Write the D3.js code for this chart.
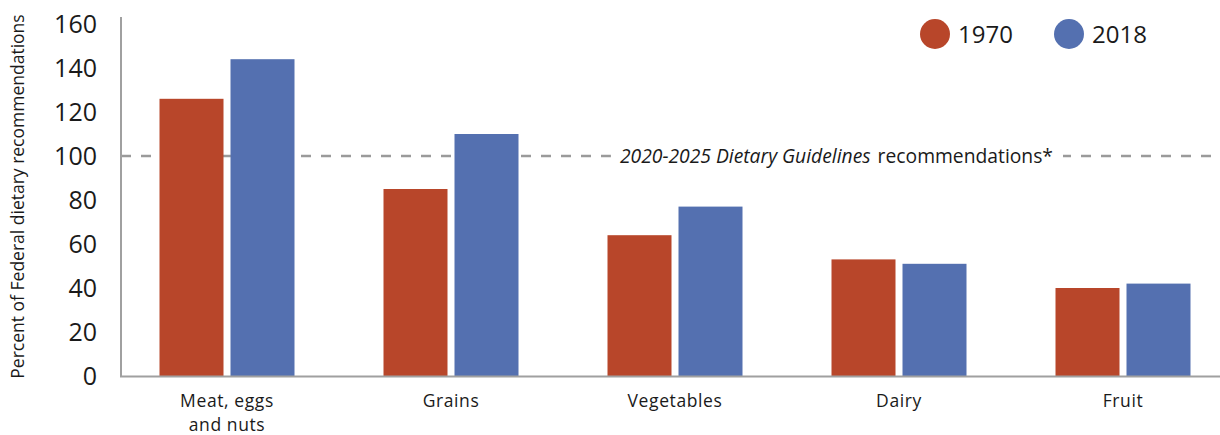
<!DOCTYPE html>
<html><head><meta charset="utf-8">
<script src="https://cdn.jsdelivr.net/npm/d3@7"></script>
<style>body{margin:0;background:#fff;} svg{display:block;font-family:"Open Sans", Lato, sans-serif;}</style>
</head><body>
<svg id="chart" width="1220" height="435"></svg>
<script>
const categories = ["Meat, eggs|and nuts", "Grains", "Vegetables", "Dairy", "Fruit"];
const series = ["1970", "2018"];
const values1970 = [126, 85, 64, 53, 40];
const values2018 = [144, 110, 77, 51, 42];
const yTicks = [0, 20, 40, 60, 80, 100, 120, 140, 160];
const colors = ["#B8462A", "#5470B0"];
const guideline = 100;
const yTitle = "Percent of Federal dietary recommendations";

const svg = d3.select("#chart");
const y = d3.scaleLinear().domain([0, 160]).range([376, 24]);
const x0 = d3.scaleBand().domain(categories).range([115, 1235]).padding(0);
const groupW = 135;
const x1 = d3.scaleBand().domain(series).range([0, groupW]).paddingInner(7/71).paddingOuter(0);
const vals = {"1970": values1970, "2018": values2018};

// guideline dashed line
svg.append("line").attr("x1", 121).attr("x2", 1212).attr("y1", y(guideline)).attr("y2", y(guideline))
  .attr("stroke", "#9a9a9a").attr("stroke-width", 2.5).attr("stroke-dasharray", "10,10");

// bars
categories.forEach((c, i) => {
  series.forEach((s, j) => {
    const v = vals[s][i];
    svg.append("rect")
      .attr("x", x0(c) + (x0.bandwidth() - groupW) / 2 + x1(s))
      .attr("y", y(v)).attr("width", x1.bandwidth()).attr("height", y(0) - y(v))
      .attr("fill", colors[j]);
  });
});

// guideline label
const gl = svg.append("g");
const gt = gl.append("text").attr("x", 1053).attr("y", y(guideline) + 7).attr("text-anchor", "end")
  .attr("font-size", 19.3).attr("fill", "#1a1a1a");
gt.append("tspan").attr("font-style", "italic").text("2020-2025 Dietary Guidelines");
gt.append("tspan").attr("dx", 7).text("recommendations*");
const bb = gt.node().getBBox();
gl.insert("rect", "text").attr("x", bb.x - 9).attr("y", bb.y).attr("width", bb.width + 19).attr("height", bb.height).attr("fill", "#fff");

// axes lines
svg.append("line").attr("x1", 121).attr("x2", 121).attr("y1", 17).attr("y2", 377).attr("stroke", "#a0a0a0").attr("stroke-width", 2);
svg.append("line").attr("x1", 120).attr("x2", 1220).attr("y1", 376.5).attr("y2", 376.5).attr("stroke", "#a0a0a0").attr("stroke-width", 2);

// y tick labels
svg.append("g").selectAll("text").data(yTicks).join("text")
  .attr("x", 97).attr("y", d => y(d)).attr("dy", "0.36em").attr("text-anchor", "end")
  .attr("font-size", 25).attr("fill", "#1a1a1a").text(d => d);

// y title
svg.append("text").attr("transform", `translate(24,${(13 + 380) / 2}) rotate(-90)`)
  .attr("text-anchor", "middle").attr("font-size", 17.5).attr("fill", "#1a1a1a").text(yTitle);

// x labels (each line its own text element)
categories.forEach(c => {
  c.split("|").forEach((p, k) => {
    svg.append("text").attr("x", x0(c) + x0.bandwidth() / 2).attr("y", 407 + k * 24)
      .attr("text-anchor", "middle").attr("font-size", 17.5).attr("letter-spacing", 0.6)
      .attr("fill", "#1a1a1a").text(p);
  });
});

// legend
const legX = [935, 1069];
series.forEach((s, j) => {
  svg.append("circle").attr("cx", legX[j]).attr("cy", 34).attr("r", 15).attr("fill", colors[j]);
  svg.append("text").attr("x", legX[j] + 23).attr("y", 34).attr("dy", "0.36em")
    .attr("font-size", 24).attr("fill", "#1a1a1a").text(s);
});
</script>
</body></html>
